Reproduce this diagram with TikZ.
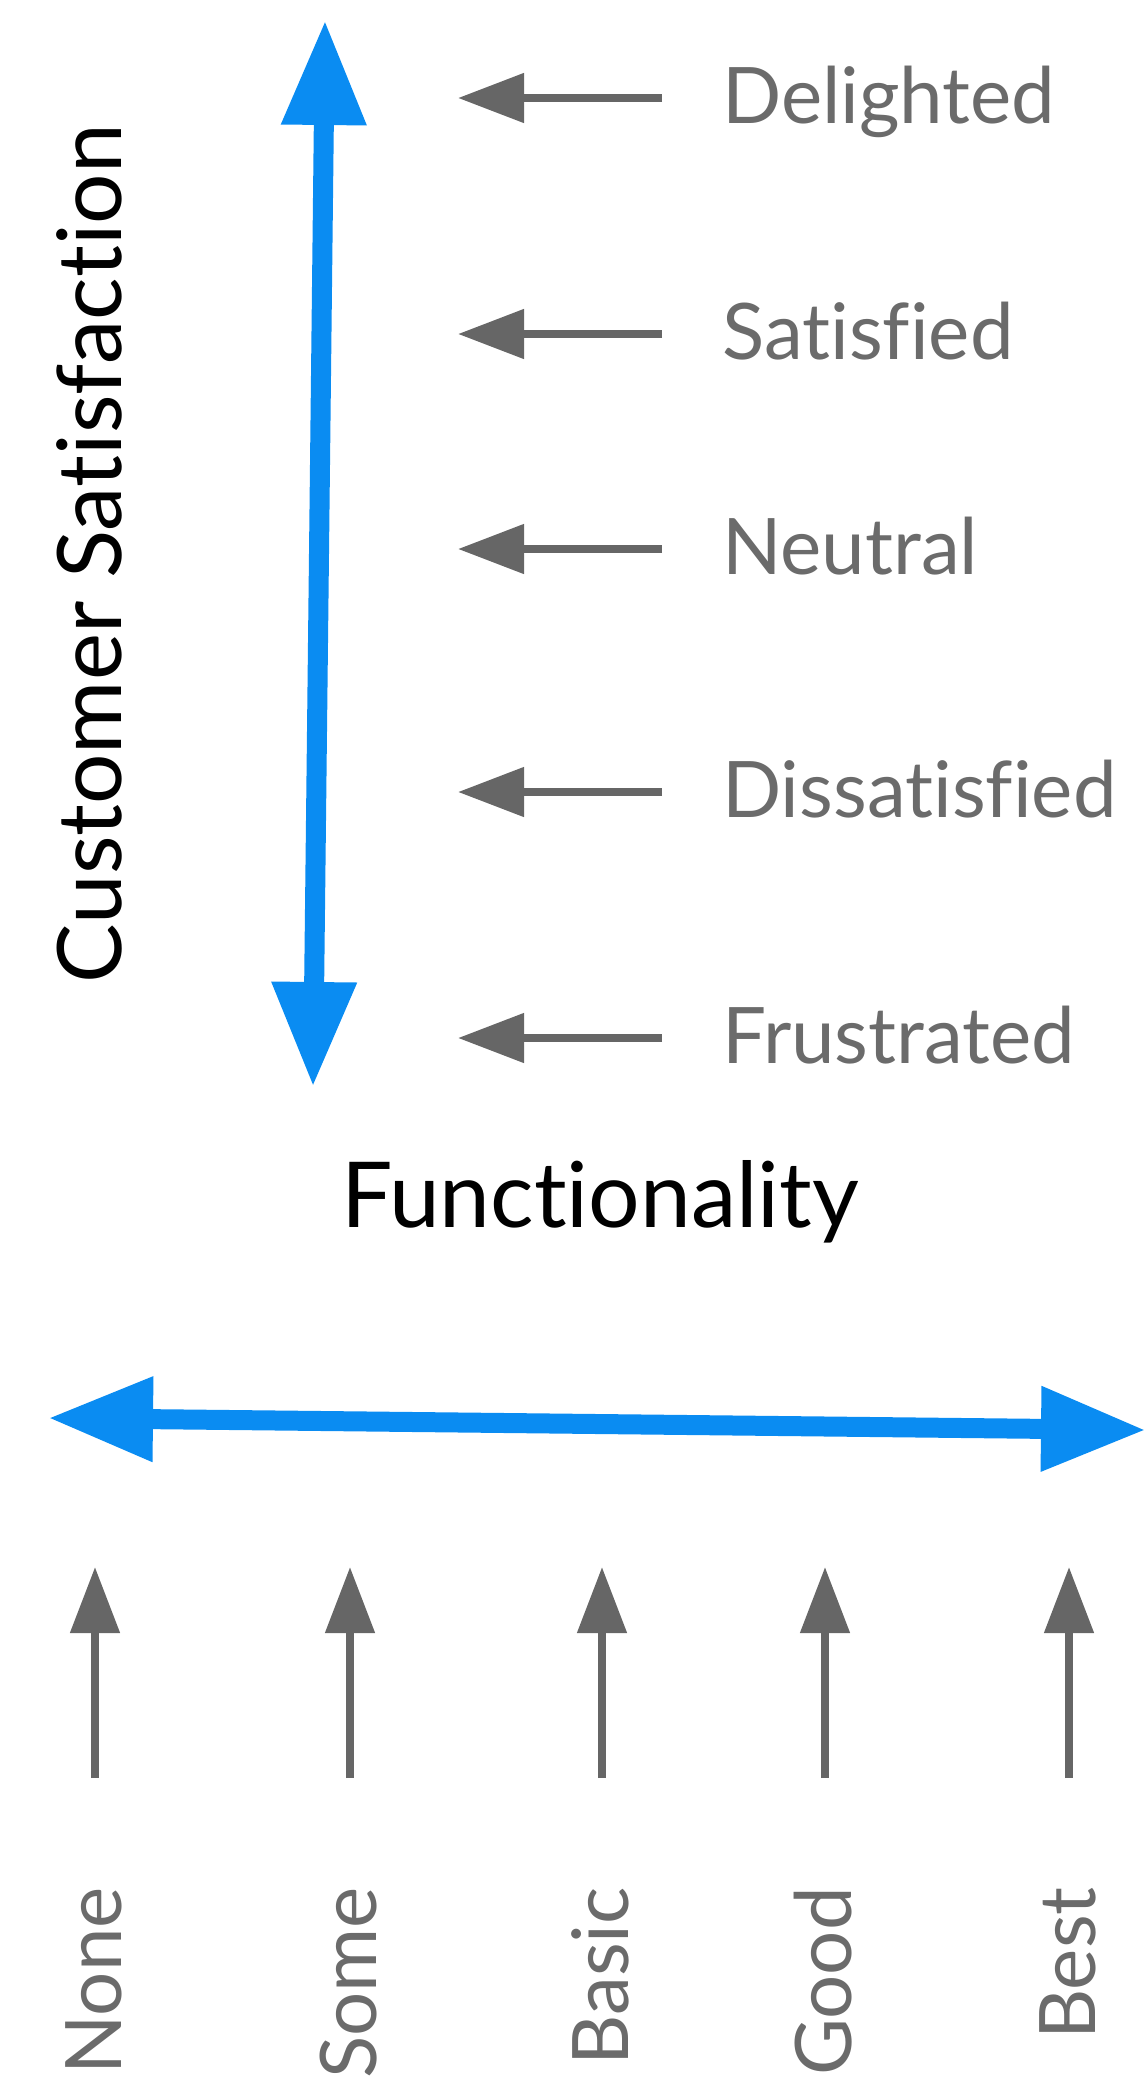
\documentclass[tikz,border=0pt]{standalone}
\usepackage{fontspec}
\setmainfont{Lato}[Ligatures={NoCommon}]
\usepackage{tikz}
\usetikzlibrary{arrows.meta}

\definecolor{axisblue}{HTML}{0A8CF2}
\definecolor{tickgray}{HTML}{666666}
\definecolor{labelgray}{HTML}{6B6B6B}

\begin{document}
\begin{tikzpicture}[x=1pt,y=-1pt,
	axis/.style={draw=axisblue, line width=20pt, {Triangle[length=105pt,width=80pt]}-{Triangle[length=105pt,width=80pt]}},
	tick/.style={draw=tickgray, line width=8pt, -{Triangle[length=66pt,width=48pt]}},
	level/.style={text=labelgray, inner sep=0pt, font=\fontsize{78}{84}\selectfont},
	title/.style={text=black, inner sep=0pt}]
			
			\useasboundingbox (0,0) rectangle (1148,2083);
			
			% satisfaction axis
			\coordinate (st) at (325,20);
			\coordinate (sb) at (313,1087);
			\draw[axis] (sb) -- (st);
			\node[title, font=\fontsize{89}{96}\selectfont, rotate=90, anchor=base] (cs) at (121,554) {Customer Satisfaction};
			
			\node[level, anchor=base west] (del) at (722,123) {Delighted};
			\node[level, anchor=base west] (sat) at (722,359) {Satisfied};
			\node[level, anchor=base west] (neu) at (722,574) {Neutral};
			\node[level, anchor=base west] (dis) at (722,817) {Dissatisfied};
			\node[level, anchor=base west] (fru) at (722,1063) {Frustrated};
			
			\coordinate (del0) at (662,98);  \coordinate (del1) at (458,98);
			\coordinate (sat0) at (662,334); \coordinate (sat1) at (458,334);
			\coordinate (neu0) at (662,549); \coordinate (neu1) at (458,549);
			\coordinate (dis0) at (662,792); \coordinate (dis1) at (458,792);
			\coordinate (fru0) at (662,1038); \coordinate (fru1) at (458,1038);
			
			\draw[tick] (del0) -- (del1);
			\draw[tick] (sat0) -- (sat1);
			\draw[tick] (neu0) -- (neu1);
			\draw[tick] (dis0) -- (dis1);
			\draw[tick] (fru0) -- (fru1);
			
			% functionality axis
			\node[title, font=\fontsize{91}{98}\selectfont, anchor=base] (fn) at (600,1227) {Functionality};
			\coordinate (fl) at (48,1418);
			\coordinate (fr) at (1146,1430);
			\draw[axis] (fl) -- (fr);
			
			\coordinate (none0) at (95,1778);   \coordinate (none1) at (95,1567);
			\coordinate (some0) at (350,1778);  \coordinate (some1) at (350,1567);
			\coordinate (basic0) at (602,1778); \coordinate (basic1) at (602,1567);
			\coordinate (good0) at (825,1778);  \coordinate (good1) at (825,1567);
			\coordinate (best0) at (1069,1778); \coordinate (best1) at (1069,1567);
			
			\draw[tick] (none0) -- (none1);
			\draw[tick] (some0) -- (some1);
			\draw[tick] (basic0) -- (basic1);
			\draw[tick] (good0) -- (good1);
			\draw[tick] (best0) -- (best1);
			
			\node[level, rotate=90, anchor=base east] (none) at (121,1887) {None};
			\node[level, rotate=90, anchor=base east] (some) at (376,1887) {Some};
			\node[level, rotate=90, anchor=base east] (basic) at (628,1887) {Basic};
			\node[level, rotate=90, anchor=base east] (good) at (851,1887) {Good};
			\node[level, rotate=90, anchor=base east] (best) at (1095,1887) {Best};
		\end{tikzpicture}
\end{document}
